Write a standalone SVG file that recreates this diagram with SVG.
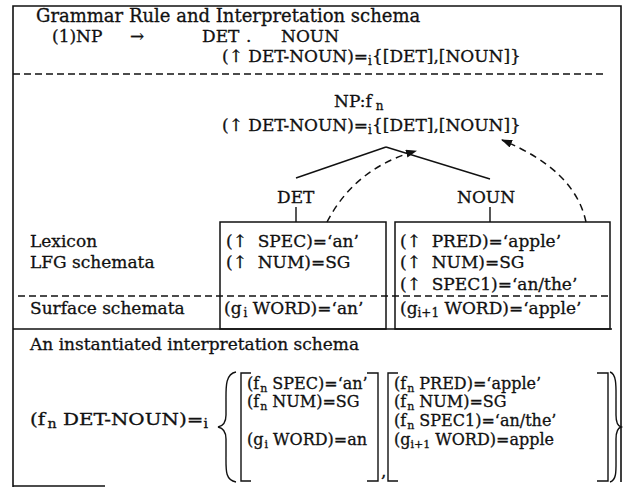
<svg xmlns="http://www.w3.org/2000/svg" width="626" height="487" viewBox="0 0 626 487">
<defs>
<style>
text{font-family:"DejaVu Serif","Liberation Serif",serif;font-size:17px;fill:#111;stroke:#111;stroke-width:0.3px;}
.t16{font-size:16px;}
.ttl{font-size:18px;}
.s{font-size:12px;}
.s11{font-size:11px;}
.ln{stroke:#111;stroke-width:1.4;fill:none;}
.fr{stroke:#111;stroke-width:1.6;fill:none;}
.dash{stroke:#111;stroke-width:1.3;fill:none;stroke-dasharray:7 4;}
.arr{stroke:#111;stroke-width:1.5;fill:none;stroke-dasharray:7 5;}
.box{stroke:#111;stroke-width:1.5;fill:none;}
</style>
<marker id="ah" markerWidth="11" markerHeight="8" refX="10" refY="4" orient="auto" markerUnits="userSpaceOnUse">
<path d="M0,0 L11,4 L0,8 Z" fill="#111"/>
</marker>
</defs>
<rect width="626" height="487" fill="#fff"/>
<g id="frame">
<path class="fr" d="M13,487 L13,6 L621,6 L621,482"/>
<path class="fr" d="M13,486 L105,486"/>
<path class="dash" d="M13,74 L604,74"/>
<path class="dash" d="M18,296 L612,296"/>
<path class="ln" d="M13,329 L612,329"/>
</g>
<g id="rule">
<text class="ttl" x="36" y="22">Grammar Rule and Interpretation schema</text>
<text x="52" y="42">(1)NP</text>
<text x="130" y="42">→</text>
<text x="202" y="42">DET</text>
<text x="246" y="42">.</text>
<text x="281" y="42">NOUN</text>
<text x="222" y="62" xml:space="preserve">(↑ DET-NOUN)=<tspan class="s" dy="3">i</tspan><tspan dy="-3">{[DET],[NOUN]}</tspan></text>
</g>
<g id="np-node">
<text x="334" y="107">NP:f<tspan class="s" dx="4" dy="3">n</tspan></text>
<text x="222" y="131" xml:space="preserve">(↑ DET-NOUN)=<tspan class="s" dy="3">i</tspan><tspan dy="-3">{[DET],[NOUN]}</tspan></text>
</g>
<g id="det-node">
<text x="277" y="203">DET</text>
</g>
<g id="noun-node">
<text x="457" y="203">NOUN</text>
</g>
<g id="row-labels">
<text x="30" y="247">Lexicon</text>
<text x="30" y="268">LFG schemata</text>
<text x="30" y="314">Surface schemata</text>
</g>
<g id="det-box">
<rect class="box" x="220" y="222" width="166" height="107"/>
<text x="226" y="247" xml:space="preserve">(↑  SPEC)=‘an’</text>
<text x="226" y="268" xml:space="preserve">(↑  NUM)=SG</text>
<text x="224" y="314" xml:space="preserve">(g<tspan class="s" dx="2" dy="3">i</tspan><tspan dy="-3"> WORD)=‘an’</tspan></text>
</g>
<g id="noun-box">
<rect class="box" x="395" y="222" width="215" height="107"/>
<text x="400" y="247" xml:space="preserve">(↑  PRED)=‘apple’</text>
<text x="400" y="268" xml:space="preserve">(↑  NUM)=SG</text>
<text x="400" y="290" xml:space="preserve">(↑  SPEC1)=‘an/the’</text>
<text x="400" y="314" xml:space="preserve">(g<tspan class="s" dy="3">i+1</tspan><tspan dy="-3"> WORD)=‘apple’</tspan></text>
</g>
<g id="connectors">
<path class="ln" d="M386,147 L296,178"/>
<path class="ln" d="M386,147 L490,179"/>
<path class="ln" d="M296,207 L296,222"/>
<path class="ln" d="M490,207 L490,222"/>
<path class="arr" d="M327,222 Q355,168 416,151" marker-end="url(#ah)"/>
<path class="arr" d="M586,222 Q575,170 502,140" marker-end="url(#ah)"/>
</g>
<g id="instantiated">
<text x="30" y="350">An instantiated interpretation schema</text>
<text x="30" y="425" textLength="178" lengthAdjust="spacingAndGlyphs" xml:space="preserve">(f<tspan class="s" dx="2" dy="3">n</tspan><tspan dy="-3"> DET-NOUN)=</tspan><tspan class="s" dy="3">i</tspan></text>
<path class="ln" d="M236,372 C225,374 226,388 226,401 L226,415 C226,423 223,426 218,427 C223,428 226,431 226,439 L226,456 C226,470 225,480 236,482"/>
<path class="ln" d="M251,373 L241,373 L241,481 L251,481"/>
<path class="ln" d="M367,373 L378,373 L378,481 L367,481"/>
<text x="381" y="477">,</text>
<path class="ln" d="M398,373 L388,373 L388,481 L398,481"/>
<path class="ln" d="M597,373 L608,373 L608,481 L597,481"/>
<path class="ln" d="M610,372 C617,374 616,388 616,401 L616,415 C616,423 618,426 621,427 C618,428 616,431 616,439 L616,456 C616,470 617,480 610,482"/>
<text class="t16" x="247" y="389" xml:space="preserve">(f<tspan class="s11" dx="1" dy="3">n</tspan><tspan dy="-3"> SPEC)=‘an’</tspan></text>
<text class="t16" x="247" y="407" xml:space="preserve">(f<tspan class="s11" dx="1" dy="3">n</tspan><tspan dy="-3"> NUM)=SG</tspan></text>
<text class="t16" x="247" y="445" xml:space="preserve">(g<tspan class="s11" dx="1" dy="3">i</tspan><tspan dy="-3"> WORD)=an</tspan></text>
<text class="t16" x="394" y="389" xml:space="preserve">(f<tspan class="s11" dx="1" dy="3">n</tspan><tspan dy="-3"> PRED)=‘apple’</tspan></text>
<text class="t16" x="394" y="407" xml:space="preserve">(f<tspan class="s11" dx="1" dy="3">n</tspan><tspan dy="-3"> NUM)=SG</tspan></text>
<text class="t16" x="394" y="426" xml:space="preserve">(f<tspan class="s11" dx="1" dy="3">n</tspan><tspan dy="-3"> SPEC1)=‘an/the’</tspan></text>
<text class="t16" x="394" y="445" xml:space="preserve">(g<tspan class="s11" dy="3">i+1</tspan><tspan dy="-3"> WORD)=apple</tspan></text>
</g>
</svg>
